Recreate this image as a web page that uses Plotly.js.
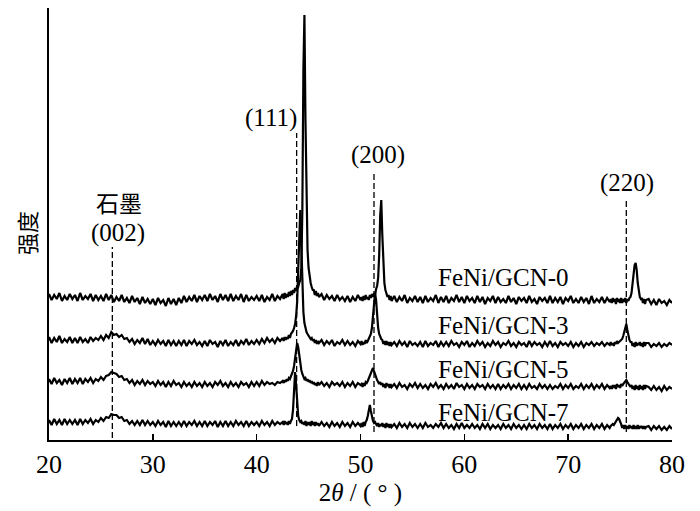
<!DOCTYPE html>
<html>
<head>
<meta charset="utf-8">
<script src="https://cdn.plot.ly/plotly-3.0.1.min.js"></script>
<style>
  body { margin: 0; background: #fff; }
  #plot { width: 700px; height: 511px; }
</style>
</head>
<body>
<div id="plot"></div>
<script>
// 2theta grid (deg), finer around the peaks
var twoTheta = [
  20, 20.25, 20.5, 20.75, 21, 21.25, 21.5, 21.75, 22, 22.25,
  22.5, 22.75, 23, 23.25, 23.5, 23.75, 24, 24.25, 24.5, 24.75,
  25, 25.25, 25.5, 25.75, 26, 26.25, 26.5, 26.75, 27, 27.25,
  27.5, 27.75, 28, 28.25, 28.5, 28.75, 29, 29.25, 29.5, 29.75,
  30, 30.25, 30.5, 30.75, 31, 31.25, 31.5, 31.75, 32, 32.25,
  32.5, 32.75, 33, 33.25, 33.5, 33.75, 34, 34.25, 34.5, 34.75,
  35, 35.25, 35.5, 35.75, 36, 36.25, 36.5, 36.75, 37, 37.25,
  37.5, 37.75, 38, 38.25, 38.5, 38.75, 39, 39.25, 39.5, 39.75,
  40, 40.25, 40.5, 40.75, 41, 41.25, 41.5, 41.75, 42, 42.25,
  42.5, 42.6, 42.7, 42.8, 42.9, 43, 43.1, 43.2, 43.3, 43.4,
  43.5, 43.6, 43.7, 43.8, 43.9, 44, 44.1, 44.2, 44.3, 44.4,
  44.5, 44.6, 44.7, 44.8, 44.9, 45, 45.1, 45.2, 45.3, 45.4,
  45.5, 45.6, 45.7, 45.8, 45.9, 46,
  46.25, 46.5, 46.75, 47, 47.25, 47.5, 47.75, 48, 48.25, 48.5,
  48.75, 49, 49.25, 49.5, 49.75, 50,
  50.1, 50.2, 50.3, 50.4, 50.5, 50.6, 50.7, 50.8, 50.9, 51,
  51.1, 51.2, 51.3, 51.4, 51.5, 51.6, 51.7, 51.8, 51.9, 52,
  52.1, 52.2, 52.3, 52.4, 52.5, 52.6, 52.7, 52.8, 52.9, 53,
  53.25, 53.5, 53.75, 54, 54.25, 54.5, 54.75, 55, 55.25, 55.5,
  55.75, 56, 56.25, 56.5, 56.75, 57, 57.25, 57.5, 57.75, 58,
  58.25, 58.5, 58.75, 59, 59.25, 59.5, 59.75, 60, 60.25, 60.5,
  60.75, 61, 61.25, 61.5, 61.75, 62, 62.25, 62.5, 62.75, 63,
  63.25, 63.5, 63.75, 64, 64.25, 64.5, 64.75, 65, 65.25, 65.5,
  65.75, 66, 66.25, 66.5, 66.75, 67, 67.25, 67.5, 67.75, 68,
  68.25, 68.5, 68.75, 69, 69.25, 69.5, 69.75, 70, 70.25, 70.5,
  70.75, 71, 71.25, 71.5, 71.75, 72, 72.25, 72.5, 72.75, 73,
  73.25, 73.5, 73.75, 74,
  74.1, 74.2, 74.3, 74.4, 74.5, 74.6, 74.7, 74.8, 74.9, 75,
  75.1, 75.2, 75.3, 75.4, 75.5, 75.6, 75.7, 75.8, 75.9, 76,
  76.1, 76.2, 76.3, 76.4, 76.5, 76.6, 76.7, 76.8, 76.9, 77,
  77.1, 77.2, 77.3, 77.4, 77.5,
  77.75, 78, 78.25, 78.5, 78.75, 79, 79.25, 79.5, 79.75, 80
]

// stacked intensities (a.u.)
var gcn0 = [
  146, 140, 145, 141, 147, 139, 144, 140, 146, 141,
  145, 139, 147, 140, 144, 141, 146, 139, 145, 140,
  144, 139, 146, 140, 145, 138, 143, 139, 145, 138,
  142, 137, 144, 138, 142, 136, 143, 137, 141, 136,
  141, 135, 142, 137, 140, 134, 142, 136, 141, 135,
  142, 137, 144, 138, 143, 139, 145, 138, 144, 140,
  145, 139, 146, 140, 144, 138, 146, 140, 145, 139,
  146, 139, 144, 140, 146, 138, 145, 139, 143, 140,
  144, 139, 145, 138, 143, 140, 146, 139, 144, 141,
  146, 141, 147, 142, 146, 143, 148, 144, 149, 145,
  150, 147, 152, 149, 154, 153, 157, 160, 172, 230,
  370, 425, 320, 225, 190, 172, 163, 157, 153, 150,
  150, 145, 149, 144, 147, 143,
  146, 140, 145, 141, 144, 139, 145, 140, 143, 139,
  144, 138, 143, 139, 145, 140,
  143, 139, 144, 140, 145, 141, 143, 140, 145, 142,
  146, 143, 147, 145, 151, 154, 162, 185, 225, 240,
  205, 172, 157, 150, 146, 143, 145, 140, 144, 139,
  144, 138, 143, 139, 145, 137, 142, 139, 144, 138,
  143, 137, 144, 138, 142, 139, 145, 137, 143, 138,
  144, 137, 142, 139, 145, 138, 143, 137, 144, 139,
  142, 137, 144, 138, 143, 136, 142, 139, 144, 137,
  143, 138, 141, 137, 144, 138, 142, 136, 143, 139,
  142, 137, 144, 138, 141, 136, 143, 139, 142, 137,
  144, 137, 142, 138, 143, 136, 142, 139, 144, 137,
  141, 137, 143, 138, 142, 136, 144, 137, 141, 138,
  143, 137, 142, 138,
  141, 137, 142, 138, 141, 136, 142, 138, 141, 137,
  142, 137, 141, 138, 142, 137, 141, 139, 142, 143,
  147, 155, 166, 175, 177, 170, 157, 148, 143, 141,
  142, 137, 141, 136, 140,
  141, 136, 140, 135, 141, 137, 139, 135, 140, 137
]

var gcn3 = [
  103, 97, 102, 98, 104, 97, 101, 98, 103, 97,
  102, 97, 103, 98, 101, 97, 103, 99, 102, 100,
  104, 100, 105, 102, 108, 105, 106, 103, 105, 101,
  102, 98, 101, 96, 100, 97, 102, 96, 101, 95,
  99, 95, 100, 96, 99, 94, 100, 95, 99, 94,
  99, 95, 100, 94, 99, 96, 100, 95, 98, 94,
  99, 94, 100, 96, 98, 93, 99, 95, 100, 94,
  98, 95, 100, 94, 99, 96, 101, 95, 99, 96,
  100, 96, 101, 97, 102, 98, 101, 97, 102, 99,
  102, 99, 103, 100, 103, 101, 105, 102, 106, 107,
  109, 112, 116, 124, 138, 170, 210, 230, 195, 150,
  128, 117, 111, 108, 106, 104, 103, 101, 102, 99,
  101, 97, 100, 96, 99, 97,
  100, 95, 99, 96, 100, 94, 98, 96, 100, 95,
  99, 95, 98, 94, 99, 96,
  99, 95, 98, 96, 100, 97, 99, 101, 103, 106,
  112, 122, 137, 147, 140, 124, 112, 106, 103, 101,
  100, 96, 99, 95, 99, 95, 98, 94, 98, 95,
  98, 94, 99, 95, 98, 93, 99, 95, 97, 94,
  98, 93, 99, 94, 97, 95, 99, 93, 98, 94,
  98, 94, 99, 95, 97, 93, 98, 95, 99, 93,
  97, 94, 99, 95, 98, 93, 97, 94, 99, 95,
  98, 93, 97, 95, 99, 94, 97, 93, 98, 95,
  97, 93, 99, 94, 98, 95, 97, 93, 98, 94,
  99, 94, 97, 93, 98, 95, 97, 94, 98, 93,
  97, 94, 98, 93, 97, 95, 98, 94, 97, 95,
  98, 94, 97, 95,
  98, 95, 97, 94, 98, 96, 99, 97, 98, 99,
  99, 101, 104, 109, 114, 116, 110, 104, 100, 98,
  98, 94, 97, 93, 98, 94, 97, 95, 98, 94,
  97, 93, 98, 94, 97,
  97, 93, 96, 94, 97, 93, 96, 94, 97, 95
]

var gcn5 = [
  61, 56, 62, 57, 60, 55, 61, 57, 62, 56,
  61, 57, 62, 56, 61, 58, 62, 57, 61, 59,
  63, 60, 64, 65, 68, 67, 66, 63, 64, 60,
  61, 57, 60, 55, 59, 56, 60, 55, 59, 56,
  58, 54, 59, 55, 58, 53, 58, 54, 59, 55,
  57, 53, 58, 54, 57, 53, 58, 54, 57, 53,
  58, 54, 57, 53, 58, 55, 59, 54, 57, 53,
  58, 54, 57, 53, 58, 55, 57, 53, 58, 54,
  58, 54, 59, 55, 58, 56, 57, 55, 58, 57,
  59, 57, 60, 58, 61, 59, 62, 61, 64, 65,
  69, 74, 84, 94, 97, 93, 85, 76, 70, 66,
  63, 61, 62, 59, 61, 58, 60, 57, 59, 56,
  58, 55, 57, 54, 58, 55,
  58, 54, 57, 53, 58, 55, 57, 54, 58, 53,
  57, 54, 58, 53, 57, 55,
  56, 53, 57, 54, 58, 57, 59, 62, 65, 68,
  71, 72, 69, 65, 62, 60, 58, 56, 58, 55,
  57, 53, 56, 52, 57, 54, 56, 52, 56, 53,
  56, 52, 57, 53, 55, 51, 56, 53, 57, 52,
  56, 52, 55, 51, 56, 53, 57, 52, 55, 51,
  56, 52, 55, 51, 57, 53, 55, 51, 56, 52,
  55, 51, 56, 53, 55, 51, 56, 52, 55, 51,
  56, 51, 55, 52, 56, 51, 55, 52, 56, 51,
  55, 51, 56, 52, 54, 51, 56, 52, 55, 51,
  55, 51, 54, 52, 56, 51, 55, 52, 56, 51,
  54, 52, 56, 51, 55, 52, 56, 51, 55, 52,
  56, 51, 55, 52,
  54, 51, 55, 52, 55, 51, 56, 53, 55, 52,
  56, 54, 56, 57, 59, 60, 58, 56, 55, 53,
  55, 51, 54, 50, 55, 51, 54, 50, 55, 51,
  54, 50, 55, 51, 54,
  53, 50, 54, 50, 53, 49, 54, 50, 53, 51
]

var gcn7 = [
  20, 15, 21, 16, 20, 15, 21, 16, 20, 16,
  20, 15, 21, 16, 20, 17, 21, 16, 20, 18,
  22, 19, 23, 22, 26, 25, 25, 22, 23, 19,
  20, 16, 19, 15, 19, 15, 20, 15, 19, 15,
  18, 14, 19, 15, 18, 13, 19, 14, 18, 14,
  18, 14, 19, 14, 18, 15, 19, 14, 18, 14,
  19, 14, 18, 15, 19, 13, 18, 14, 19, 14,
  18, 14, 19, 15, 18, 14, 19, 14, 18, 15,
  18, 14, 19, 15, 18, 14, 19, 15, 18, 16,
  18, 15, 19, 16, 18, 15, 19, 16, 19, 21,
  30, 52, 68, 55, 34, 24, 20, 18, 19, 16,
  18, 15, 19, 14, 18, 15, 18, 14, 19, 15,
  18, 14, 18, 15, 17, 14,
  18, 14, 17, 13, 18, 14, 17, 13, 18, 14,
  17, 13, 18, 14, 17, 14,
  17, 13, 18, 14, 18, 20, 24, 31, 35, 29,
  22, 19, 17, 18, 16, 14, 17, 13, 16, 14,
  17, 13, 16, 12, 17, 13, 16, 12, 16, 13,
  16, 12, 17, 13, 16, 12, 17, 13, 16, 12,
  16, 12, 17, 13, 15, 12, 16, 13, 17, 12,
  16, 12, 15, 11, 16, 12, 17, 12, 15, 12,
  16, 12, 15, 11, 16, 12, 16, 11, 15, 12,
  15, 11, 16, 12, 15, 11, 16, 12, 15, 11,
  15, 11, 16, 12, 15, 11, 16, 12, 15, 11,
  16, 11, 15, 12, 16, 11, 15, 12, 16, 11,
  15, 12, 16, 11, 15, 12, 16, 11, 15, 12,
  16, 11, 15, 12,
  14, 15, 16, 15, 17, 18, 20, 22, 21, 19,
  16, 12, 15, 11, 15, 12, 14, 11, 15, 12,
  14, 11, 15, 11, 14, 11, 15, 11, 14, 12,
  14, 11, 14, 11, 13,
  14, 10, 14, 11, 14, 10, 13, 10, 14, 11
]

var sampleNames = ['FeNi/GCN-0', 'FeNi/GCN-3', 'FeNi/GCN-5', 'FeNi/GCN-7']
var sampleLabelX = 63.8
var sampleLabelY = [163, 115, 71, 28]

// reference peak positions (dashed guides) and their labels
var refX = [26.1, 43.85, 51.3, 75.6]
var refTop = [193, 307, 267, 242]
var refBottom = [2, 14, 8, 8]
var refLabels = ['(002)', '(111)', '(200)', '(220)']
var refLabelX = [26.65, 41.4, 51.7, 75.7]
var refLabelY = [207, 322, 285, 257]

var xTicks = [20, 30, 40, 50, 60, 70, 80]

var serif = '"Liberation Serif", "Times New Roman", serif'
var cjk = '"Noto Sans CJK SC", sans-serif'

var traces = []
for (var s of [gcn0, gcn3, gcn5, gcn7]) {
    traces.push({
        x: twoTheta, y: s, type: 'scatter', mode: 'lines',
        line: { color: '#000', width: 2.2 }, hoverinfo: 'skip'
    })
}
for (var i = 0; i < refX.length; i++) {
    traces.push({
        x: [refX[i], refX[i]], y: [refBottom[i], refTop[i]],
        type: 'scatter', mode: 'lines',
        line: { color: '#000', width: 1.3, dash: '6px,3px' }, hoverinfo: 'skip'
    })
}

var annotations = []
sampleNames.forEach(function (name, i) {
    annotations.push({
        x: sampleLabelX, y: sampleLabelY[i], text: name, showarrow: false,
        font: { family: serif, size: 25, color: '#000' }
    })
})
refLabels.forEach(function (lab, i) {
    annotations.push({
        x: refLabelX[i], y: refLabelY[i], text: lab, showarrow: false,
        font: { family: serif, size: 25, color: '#000' }
    })
})
annotations.push({
    x: 26.7, y: 238, text: '石墨', showarrow: false,
    font: { family: cjk, size: 23, color: '#000' }
})
annotations.push({
    xref: 'paper', yref: 'paper', x: -0.038, y: 0.48, xanchor: 'center', yanchor: 'middle',
    text: '强度', textangle: -90, showarrow: false,
    font: { family: cjk, size: 22, color: '#000' }
})

var layout = {
    width: 700, height: 511,
    margin: { l: 49, r: 28, t: 8, b: 71 },
    paper_bgcolor: '#fff', plot_bgcolor: '#fff',
    showlegend: false,
    xaxis: {
        range: [20, 80], tickvals: xTicks, ticktext: xTicks.map(String),
        ticks: 'inside', ticklen: 6, tickwidth: 1.6, tickcolor: '#000',
        showline: true, linecolor: '#000', linewidth: 1.8,
        showgrid: false, zeroline: false,
        tickfont: { family: serif, size: 26, color: '#000' },
        title: { text: '2<i>θ</i> / ( ° )', font: { family: serif, size: 25, color: '#000' }, standoff: 4 },
        automargin: false
    },
    yaxis: {
        range: [0, 432], showline: true, linecolor: '#000', linewidth: 1.8,
        showticklabels: false, ticks: '', showgrid: false, zeroline: false,
        automargin: false
    },
    annotations: annotations
}

Plotly.newPlot('plot', traces, layout, { staticPlot: true })
</script>
</body>
</html>
